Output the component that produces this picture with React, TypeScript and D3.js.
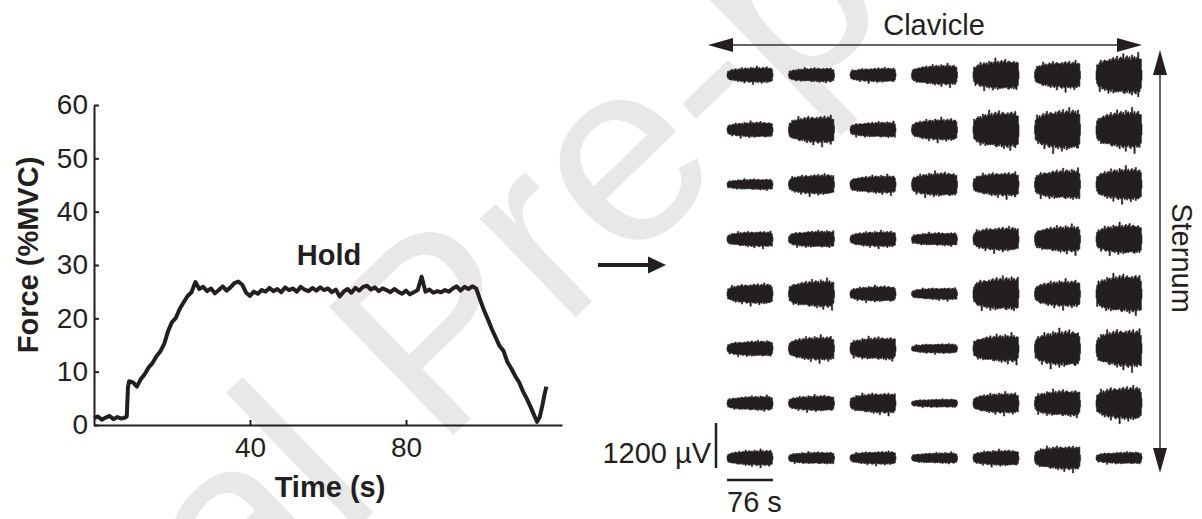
import React, { useRef, useEffect } from 'react';
import * as d3 from 'd3';

const INK = '#231f20';
const FONT = '"Liberation Sans", Arial, Helvetica, sans-serif';

// Force trace, seconds vs %MVC
const forceTime = [
  0, 1, 2, 3, 4, 5, 6, 7, 8, 8.4, 8.7, 9, 10, 11, 12, 13, 14, 15, 16, 17, 18, 19, 20,
  21, 22, 23, 24, 25, 26, 27, 28, 29, 30, 31, 32, 33, 34, 35, 36, 37, 38, 39, 40,
  41, 42, 43, 44, 45, 46, 47, 48, 49, 50, 51, 52, 53, 54, 55, 56, 57, 58, 59, 60,
  61, 62, 63, 64, 65, 66, 67, 68, 69, 70, 71, 72, 73, 74, 75, 76, 77, 78, 79, 80,
  81, 82, 83, 84, 85, 86, 87, 88, 89, 90, 91, 92, 93, 94, 95, 96, 97, 98, 99, 100,
  101, 102, 103, 104, 105, 106, 107, 108, 109, 110, 111, 112, 113, 113.6, 114.3, 115, 115.6, 116
];
const forceValue = [
  1.3, 1.6, 1.0, 1.4, 1.7, 1.1, 1.5, 1.2, 1.4, 1.6, 7.0, 8.2, 8.0, 7.2, 8.6, 9.5, 10.8, 11.6, 12.9, 13.8, 15.2, 17.6, 19.3,
  20.1, 21.8, 23.0, 24.2, 24.9, 26.8, 25.5, 25.9, 25.1, 25.6, 24.7, 25.3, 26.0, 25.2, 25.8, 26.6, 26.9, 26.3, 24.8, 24.2,
  25.0, 24.6, 25.3, 25.0, 25.7, 25.1, 25.5, 24.9, 25.8, 25.3, 25.6, 25.0, 25.9, 25.4, 25.1, 25.7, 25.2, 25.8, 25.3, 25.6,
  24.9, 25.4, 24.1, 25.0, 25.5, 24.8, 25.7, 25.2, 25.9, 26.1, 25.4, 25.8, 25.1, 25.6, 25.3, 24.9, 25.5, 25.0, 24.6, 25.2,
  24.5, 24.9, 25.3, 27.8, 25.0, 25.4, 24.8, 25.1, 24.9, 25.3, 25.0, 25.6, 26.0, 25.2, 25.9, 25.5, 26.0, 25.6, 23.5, 21.5,
  19.8, 18.0, 16.4, 14.8, 13.9, 11.8, 10.6, 9.2, 8.0, 6.3, 4.9, 3.3, 1.6, 0.6, 1.5, 3.8, 6.0, 7.2
];
const forceTicks = [0, 10, 20, 30, 40, 50, 60];
const timeTicks = [40, 80];

// HD-EMG grid: rows from clavicle (top) to sternum, peak-to-peak amplitude (µV)
const gridColumns = [1, 2, 3, 4, 5, 6, 7];
const gridRows = [1, 2, 3, 4, 5, 6, 7, 8];
const row1 = [347, 320, 320, 453, 667, 613, 880];
const row2 = [347, 613, 347, 480, 827, 907, 853];
const row3 = [240, 453, 400, 533, 533, 667, 720];
const row4 = [347, 373, 347, 293, 533, 587, 667];
const row5 = [453, 613, 347, 267, 747, 587, 853];
const row6 = [347, 533, 507, 213, 613, 800, 853];
const row7 = [320, 347, 453, 187, 453, 587, 747];
const row8 = [347, 267, 293, 240, 347, 533, 267];
const emgAmplitude = [row1, row2, row3, row4, row5, row6, row7, row8];

// shape of one contraction burst (s -> relative amplitude)
const envelopeTime = [0, 1.5, 4, 7, 10, 14, 18, 22, 26, 30, 34, 38, 42, 46, 50, 54, 58, 62, 66, 70, 72, 74, 75.5, 76];
const envelopeGain = [0.25, 0.5, 0.62, 0.7, 0.76, 0.8, 0.84, 0.88, 0.9, 0.93, 0.95, 0.97, 0.98, 0.99, 1, 1, 1, 0.99, 1, 0.98, 0.95, 0.85, 0.6, 0.3];
// ragged edge of the raw signal
const edgeTop = [0.0, 0.1, -0.05, 0.08, 0.15, -0.02, 0.06, 0.2, -0.06, 0.04, 0.12, 0.02, 0.3, -0.04, 0.08, 0.16, 0.0, 0.1, -0.08, 0.22, 0.05, 0.12, -0.03, 0.09, 0.4, 0.02, 0.14, -0.05, 0.07, 0.18, 0.0, 0.11, 0.25, -0.04, 0.06, 0.13, 0.03, 0.0];
const edgeBottom = [0.02, -0.04, 0.09, 0.14, 0.0, 0.07, -0.06, 0.12, 0.04, 0.22, -0.02, 0.08, 0.15, 0.01, 0.35, 0.06, -0.05, 0.1, 0.18, 0.02, 0.09, 0.5, -0.03, 0.11, 0.05, 0.16, 0.0, 0.08, 0.28, 0.03, 0.12, -0.04, 0.19, 0.06, 0.1, 0.02, 0.07, 0.0];

const scaleMicroVolts = 1200;
const scaleSeconds = 76;

const App = () => {
  const svgRef = useRef<SVGSVGElement>(null);

  useEffect(() => {
    const svg = d3.select(svgRef.current);
    svg.selectAll('*').remove();

    // watermark
    svg.append('text')
      .attr('transform', 'translate(495,395) rotate(-44)')
      .attr('text-anchor', 'middle')
      .style('font-family', FONT)
      .style('font-size', '260px')
      .style('fill', '#e8e8e8')
      .text('Journal Pre-proof');

    // ---- force panel ----
    const x = d3.scaleLinear().domain([0, 120]).range([94, 562]);
    const y = d3.scaleLinear().domain([0, 60]).range([425, 105]);

    const yAxis = svg.append('g')
      .attr('transform', `translate(${x(0)},0)`)
      .call(d3.axisLeft(y).tickValues(forceTicks).tickSizeInner(-5).tickSizeOuter(0).tickPadding(6));
    const xAxis = svg.append('g')
      .attr('transform', `translate(0,${y(0)})`)
      .call(d3.axisBottom(x).tickValues(timeTicks).tickSizeInner(-5).tickSizeOuter(0).tickPadding(12));

    [xAxis, yAxis].forEach(axis => {
      axis.selectAll('path, line').style('stroke', INK).style('stroke-width', 2);
      axis.selectAll('text')
        .style('fill', INK)
        .style('font-size', '28px')
        .style('font-family', FONT);
    });

    const line = d3.line<number>()
      .x((d, i) => x(forceTime[i]))
      .y(d => y(d));
    svg.append('path')
      .datum(forceValue)
      .attr('d', line)
      .attr('fill', 'none')
      .attr('stroke', INK)
      .attr('stroke-width', 4)
      .attr('stroke-linejoin', 'round');

    svg.append('text')
      .attr('x', 329).attr('y', 265)
      .attr('text-anchor', 'middle')
      .style('font-family', FONT).style('font-size', '29px').style('font-weight', 'bold').style('fill', INK)
      .text('Hold');

    svg.append('text')
      .attr('x', 330).attr('y', 497)
      .attr('text-anchor', 'middle')
      .style('font-family', FONT).style('font-size', '29px').style('font-weight', 'bold').style('fill', INK)
      .text('Time (s)');

    svg.append('text')
      .attr('transform', 'translate(38,255) rotate(-90)')
      .attr('text-anchor', 'middle')
      .style('font-family', FONT).style('font-size', '29px').style('font-weight', 'bold').style('fill', INK)
      .text('Force (%MVC)');

    // arrow between panels
    svg.append('line')
      .attr('x1', 598).attr('x2', 652).attr('y1', 265).attr('y2', 265)
      .attr('stroke', INK).attr('stroke-width', 4);
    svg.append('path')
      .attr('d', 'M666,265 L648,256.5 L648,273.5 Z')
      .attr('fill', INK);

    // ---- EMG grid ----
    const col = d3.scalePoint<number>().domain(gridColumns).range([750, 1119]);
    const row = d3.scalePoint<number>().domain(gridRows).range([75, 458]);
    const t = d3.scaleLinear().domain([0, scaleSeconds]).range([-23, 23]);
    const amp = d3.scaleLinear().domain([0, scaleMicroVolts]).range([0, 45]);
    const envelope = d3.scaleLinear().domain(envelopeTime).range(envelopeGain).clamp(true);

    const n = edgeTop.length;
    const step = scaleSeconds / (n - 1);

    gridRows.forEach((r, ri) => {
      gridColumns.forEach((c, ci) => {
        const a = amp(emgAmplitude[ri][ci]) / 2;
        const shift = (ri * 5 + ci * 11) % n;
        const pts = edgeTop.map((_, i) => ({
          s: i * step,
          top: edgeTop[(i + shift) % n],
          bottom: edgeBottom[(i + shift * 2) % n],
        }));
        const area = d3.area<any>()
          .x(d => t(d.s))
          .y0(d => a * envelope(d.s) * (1 + d.bottom))
          .y1(d => -a * envelope(d.s) * (1 + d.top))
          .curve(d3.curveStep);
        svg.append('path')
          .datum(pts)
          .attr('transform', `translate(${col(c)},${row(r)})`)
          .attr('d', area)
          .attr('fill', INK)
          .attr('stroke', INK)
          .attr('stroke-width', 0.6);
      });
    });

    // Clavicle arrow
    svg.append('line')
      .attr('x1', 724).attr('x2', 1126).attr('y1', 45).attr('y2', 45)
      .attr('stroke', '#333').attr('stroke-width', 1.5);
    svg.append('path').attr('d', 'M708,45 L733,38 L733,52 Z').attr('fill', INK);
    svg.append('path').attr('d', 'M1142,45 L1117,38 L1117,52 Z').attr('fill', INK);
    svg.append('text')
      .attr('x', 934).attr('y', 35)
      .attr('text-anchor', 'middle')
      .style('font-family', FONT).style('font-size', '29px').style('fill', INK)
      .text('Clavicle');

    // Sternum arrow
    svg.append('line')
      .attr('x1', 1160).attr('x2', 1160).attr('y1', 66).attr('y2', 457)
      .attr('stroke', '#333').attr('stroke-width', 1.5);
    svg.append('path').attr('d', 'M1160,50 L1153,75 L1167,75 Z').attr('fill', INK);
    svg.append('path').attr('d', 'M1160,473 L1153,448 L1167,448 Z').attr('fill', INK);
    svg.append('text')
      .attr('transform', 'translate(1172,258) rotate(90)')
      .attr('text-anchor', 'middle')
      .style('font-family', FONT).style('font-size', '29px').style('fill', INK)
      .text('Sternum');

    // scale bars
    const barX = 716;
    const barBottom = 468;
    svg.append('line')
      .attr('x1', barX).attr('x2', barX)
      .attr('y1', barBottom).attr('y2', barBottom - amp(scaleMicroVolts))
      .attr('stroke', INK).attr('stroke-width', 2.5);
    svg.append('text')
      .attr('x', 711).attr('y', 463)
      .attr('text-anchor', 'end')
      .style('font-family', FONT).style('font-size', '29px').style('fill', INK)
      .text(`${scaleMicroVolts} µV`);

    const barLeft = col(1)! + t(0);
    svg.append('line')
      .attr('x1', barLeft).attr('x2', barLeft + t(scaleSeconds) - t(0))
      .attr('y1', 480).attr('y2', 480)
      .attr('stroke', INK).attr('stroke-width', 2.5);
    svg.append('text')
      .attr('x', 727).attr('y', 512)
      .style('font-family', FONT).style('font-size', '29px').style('fill', INK)
      .text(`${scaleSeconds} s`);
  }, []);

  return (
    <svg
      ref={svgRef}
      width={1202}
      height={519}
      style={{ position: 'absolute', left: 0, top: 0, background: '#fff', display: 'block' }}
    />
  );
};

export default App;
